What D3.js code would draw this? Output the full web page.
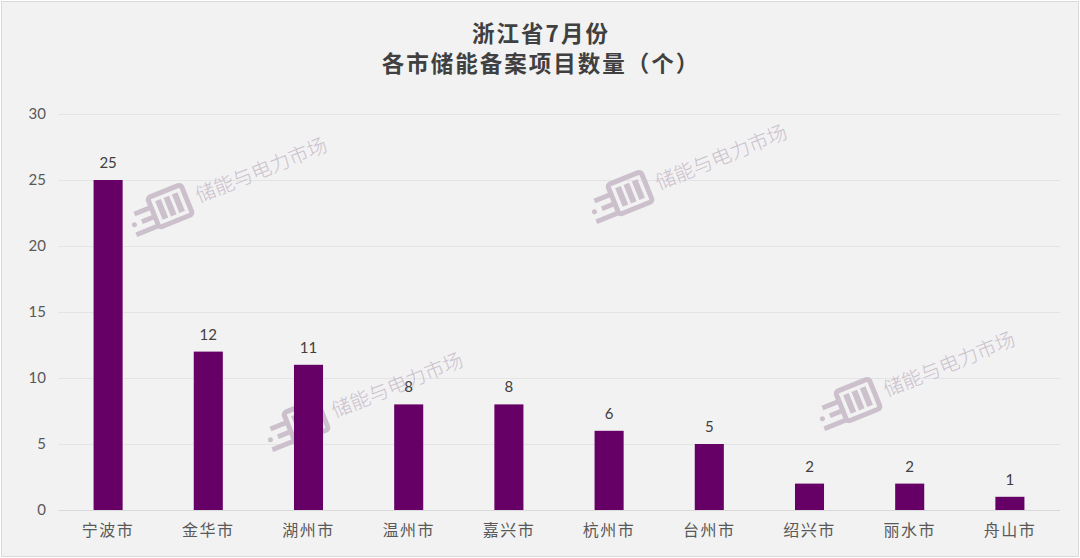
<!DOCTYPE html>
<html><head><meta charset="utf-8">
<script src="https://cdn.jsdelivr.net/npm/d3@7/dist/d3.min.js"></script>
<style>
html,body{margin:0;padding:0;background:#fff;}
svg{display:block;}
</style></head>
<body>
<script>
const categories = ["宁波市","金华市","湖州市","温州市","嘉兴市","杭州市","台州市","绍兴市","丽水市","舟山市"];
const values = [25,12,11,8,8,6,5,2,2,1];
const yTicks = [0,5,10,15,20,25,30];
const titleLines = ["浙江省7月份","各市储能备案项目数量（个）"];
const watermarkText = "储能与电力市场";

const W = 1080, H = 558;
const font = "Lato, 'Noto Sans CJK SC', sans-serif";
const svg = d3.select("body").append("svg").attr("width", W).attr("height", H);

svg.append("rect").attr("x",1.5).attr("y",1.5).attr("width",W-3).attr("height",H-3)
  .attr("fill","#f2f2f2").attr("stroke","#d9d9d9").attr("stroke-width",1);

const x = d3.scaleBand().domain(categories).range([58,1060]).paddingInner(0.71).paddingOuter(0.355);
const y = d3.scaleLinear().domain([0,30]).range([510,114]);

// title
svg.append("g").selectAll("text").data(titleLines).join("text")
  .attr("x", W/2 + 1).attr("y",(d,i)=>42+i*30)
  .attr("text-anchor","middle").attr("font-family","'Noto Sans CJK SC', sans-serif")
  .attr("font-weight","bold").attr("font-size",22.5).attr("letter-spacing",2)
  .attr("fill","#404040").text(d=>d);

// grid
const yAxis = d3.axisLeft(y).tickValues(yTicks).tickSize(-(1060-58)).tickPadding(12);
const gy = svg.append("g").attr("transform","translate(58,0)").call(yAxis);
gy.select(".domain").remove();
gy.selectAll(".tick line").attr("stroke",d=>d===0?"#d9d9d9":"#e4e4e4").attr("stroke-width",1);
gy.selectAll(".tick text").attr("font-family",font).attr("font-size",15).attr("fill","#595959");

// watermarks
const wms = [
  {x:199,y:203},{x:659,y:190},{x:335,y:418},{x:887,y:397}
];
const wmColor = "#cbc0cc";
const wg = svg.append("g").selectAll("g").data(wms).join("g")
  .attr("transform",d=>`translate(${d.x},${d.y}) rotate(-22)`);
wg.append("text").attr("x",0).attr("y",0)
  .attr("font-family","'Noto Sans CJK SC', sans-serif").attr("font-weight",300)
  .attr("font-size",20).attr("fill",wmColor).text(watermarkText);
wg.append("rect").attr("x",-46).attr("y",-24).attr("width",36).attr("height",32).attr("rx",3)
  .attr("fill","none").attr("stroke",wmColor).attr("stroke-width",5);
wg.selectAll("rect.bar").data([0,1,2]).join("rect").attr("class","bar")
  .attr("x",i=>-40+i*9).attr("y",-18).attr("width",6).attr("height",20).attr("fill",wmColor);
wg.append("path").attr("d","M-64,-14 L-46,-14 M-60,-4 L-46,-4 M-70,6 L-46,6")
  .attr("stroke",wmColor).attr("stroke-width",5).attr("fill","none");
wg.append("circle").attr("cx",-68).attr("cy",-4).attr("r",2.5).attr("fill",wmColor);

// bars
svg.append("g").selectAll("rect").data(values).join("rect")
  .attr("x",(d,i)=>x(categories[i])).attr("width",x.bandwidth())
  .attr("y",d=>y(d)).attr("height",d=>y(0)-y(d)).attr("fill","#660066");

// value labels
svg.append("g").selectAll("text").data(values).join("text")
  .attr("x",(d,i)=>x(categories[i])+x.bandwidth()/2).attr("y",d=>y(d)-12)
  .attr("text-anchor","middle").attr("font-family",font).attr("font-size",15)
  .attr("fill","#404040").text(d=>d);

// category labels
const xAxis = d3.axisBottom(x).tickSize(0).tickPadding(15);
const gx = svg.append("g").attr("transform","translate(0,510)").call(xAxis);
gx.select(".domain").remove();
gx.selectAll(".tick text").attr("font-family","'Noto Sans CJK SC', sans-serif")
  .attr("font-size",16).attr("letter-spacing",1.5).attr("fill","#595959");
</script>
</body></html>
